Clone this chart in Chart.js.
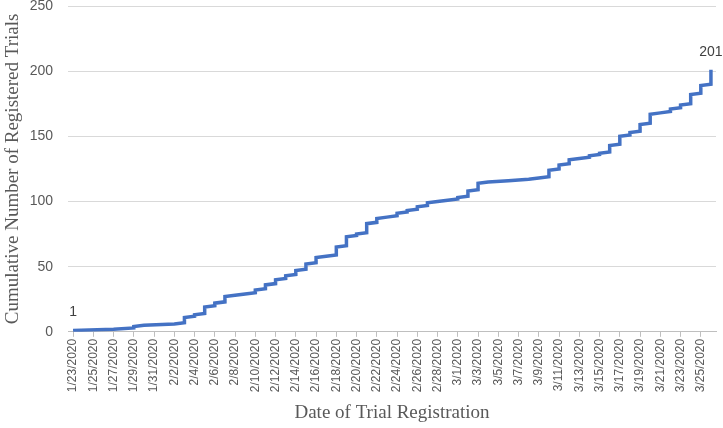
<!DOCTYPE html>
<html lang="en">
<head>
<meta charset="UTF-8">
<title>Cumulative Number of Registered Trials</title>
<script src="https://cdn.jsdelivr.net/npm/chart.js@4.4.0/dist/chart.umd.min.js"></script>
<style>
  html, body { margin: 0; padding: 0; background: #fff; }
  .chart-container { position: relative; width: 723px; height: 428px; }
</style>
</head>
<body>
<div class="chart-container"><canvas id="myChart" width="723" height="428"></canvas></div>
<script>
// one entry per calendar day
const dates = [
  '1/23/2020', '1/24/2020', '1/25/2020', '1/26/2020', '1/27/2020', '1/28/2020', '1/29/2020', '1/30/2020', '1/31/2020',
  '2/1/2020', '2/2/2020', '2/3/2020', '2/4/2020', '2/5/2020', '2/6/2020', '2/7/2020', '2/8/2020', '2/9/2020', '2/10/2020',
  '2/11/2020', '2/12/2020', '2/13/2020', '2/14/2020', '2/15/2020', '2/16/2020', '2/17/2020', '2/18/2020', '2/19/2020', '2/20/2020',
  '2/21/2020', '2/22/2020', '2/23/2020', '2/24/2020', '2/25/2020', '2/26/2020', '2/27/2020', '2/28/2020', '2/29/2020',
  '3/1/2020', '3/2/2020', '3/3/2020', '3/4/2020', '3/5/2020', '3/6/2020', '3/7/2020', '3/8/2020', '3/9/2020', '3/10/2020',
  '3/11/2020', '3/12/2020', '3/13/2020', '3/14/2020', '3/15/2020', '3/16/2020', '3/17/2020', '3/18/2020', '3/19/2020', '3/20/2020',
  '3/21/2020', '3/22/2020', '3/23/2020', '3/24/2020', '3/25/2020', '3/26/2020'
];

// cumulative trials at the end of each day
const cumulative = [
  1, 1, 1, 1, 2, 2, 4, 5, 5,
  5, 6, 11, 13, 19, 22, 27, 28, 29, 32,
  36, 40, 43, 47, 52, 57, 58, 65, 73, 75,
  83, 87, 88, 91, 93, 96, 99, 100, 101,
  103, 108, 114, 115, 115, 116, 116, 117, 118, 124,
  128, 132, 133, 135, 137, 143, 150, 153, 159, 167,
  168, 171, 174, 182, 189, 201
];

const yTicks = [0, 50, 100, 150, 200, 250];

// like the spreadsheet: one point per trial, so a day with several
// registrations gives a vertical jump and empty days are skipped
const points = [];
cumulative.forEach((total, i) => {
  const prev = i === 0 ? 0 : cumulative[i - 1];
  if (total === prev) return;
  if (total - prev > 1) points.push({ x: dates[i], y: prev + 1 });
  points.push({ x: dates[i], y: total });
});

const gray = '#595959';

const endLabels = {
  id: 'endLabels',
  afterDatasetsDraw(chart) {
    const ctx = chart.ctx;
    const els = chart.getDatasetMeta(0).data;
    const ends = [[els[0], points[0].y], [els[els.length - 1], points[points.length - 1].y]];
    ctx.save();
    ctx.font = '14px "Liberation Sans"';
    ctx.fillStyle = '#404040';
    ctx.textAlign = 'center';
    ctx.textBaseline = 'bottom';
    ends.forEach(([el, v]) => ctx.fillText(String(v), el.x, el.y - 11));
    ctx.restore();
  }
};

new Chart(document.getElementById('myChart'), {
  type: 'line',
  data: {
    labels: dates,
    datasets: [{
      data: points,
      borderColor: '#4472C4',
      borderWidth: 3.5,
      pointRadius: 0,
      tension: 0,
      fill: false
    }]
  },
  options: {
    responsive: false,
    animation: false,
    maintainAspectRatio: false,
    layout: { padding: { left: 0, right: 7, top: 0, bottom: 1 } },
    plugins: { legend: { display: false }, tooltip: { enabled: false } },
    scales: {
      x: {
        type: 'category',
        offset: true,
        afterFit: axis => {
          axis.paddingLeft = 0;
          axis.paddingRight = 0;
          axis.paddingTop = 0;
          axis.paddingBottom = 0;
        },
        grid: {
          drawOnChartArea: false,
          tickLength: 5,
          color: c => (c.index % 2 === 0 ? '#bfbfbf' : 'rgba(0,0,0,0)')
        },
        border: { color: '#bfbfbf' },
        ticks: {
          autoSkip: false,
          maxRotation: 90,
          minRotation: 90,
          padding: 2,
          color: gray,
          font: { family: 'Liberation Sans', size: 12 },
          callback: (v, i) => (i % 2 === 0 ? dates[i] : '')
        },
        title: {
          display: true,
          text: 'Date of Trial Registration',
          color: gray,
          font: { family: 'Liberation Serif', size: 19 },
          padding: { top: 7, bottom: 3 }
        }
      },
      y: {
        min: 0,
        max: 250,
        afterBuildTicks: axis => { axis.ticks = yTicks.map(v => ({ value: v })); },
        afterFit: axis => {
          axis.width = 68;
          axis.paddingTop = 6;
          axis.paddingBottom = 0;
        },
        grid: { color: '#d9d9d9', drawTicks: false },
        border: { display: false },
        ticks: {
          padding: 15,
          color: gray,
          font: { family: 'Liberation Sans', size: 14, lineHeight: 1 }
        },
        title: {
          display: true,
          text: 'Cumulative Number of Registered Trials',
          color: gray,
          font: { family: 'Liberation Serif', size: 19 },
          padding: { top: 2, bottom: 4 }
        }
      }
    }
  },
  plugins: [endLabels]
});
</script>
</body>
</html>
